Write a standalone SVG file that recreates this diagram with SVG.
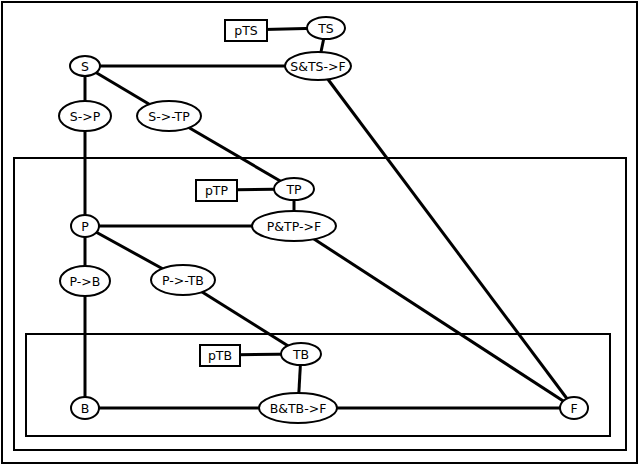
<svg xmlns="http://www.w3.org/2000/svg" width="640" height="466" viewBox="0 0 640 466">
<style>
.f{fill:none;stroke:#000;stroke-width:2}
.n ellipse,.n rect{fill:#fff;stroke:#000;stroke-width:2}
.n text{font-family:"DejaVu Sans","Liberation Sans",sans-serif;font-size:12.5px;text-anchor:middle;dominant-baseline:central}
#edges line{stroke:#000;stroke-width:3}
</style>
<rect width="640" height="466" fill="#fff"/>
<rect class="f" x="2" y="2" width="635" height="461"/>
<rect class="f" x="14" y="158" width="612" height="292"/>
<rect class="f" x="26" y="334" width="584" height="102"/>
<g id="edges">
<line x1="246" y1="30" x2="326" y2="28"/>
<line x1="326" y1="28" x2="318" y2="66"/>
<line x1="85" y1="66" x2="318" y2="66"/>
<line x1="318" y1="66" x2="574" y2="408"/>
<line x1="85" y1="66" x2="85" y2="226"/>
<line x1="85" y1="66" x2="169" y2="116"/>
<line x1="169" y1="116" x2="294" y2="189"/>
<line x1="216" y1="190" x2="294" y2="189"/>
<line x1="294" y1="189" x2="294" y2="226"/>
<line x1="85" y1="226" x2="294" y2="226"/>
<line x1="294" y1="226" x2="574" y2="408"/>
<line x1="85" y1="226" x2="85" y2="408"/>
<line x1="85" y1="226" x2="183" y2="280"/>
<line x1="183" y1="280" x2="301" y2="354"/>
<line x1="220" y1="355" x2="301" y2="354"/>
<line x1="301" y1="354" x2="298" y2="408"/>
<line x1="85" y1="408" x2="574" y2="408"/>
</g>
<g id="pTS" class="n"><rect x="225" y="20" width="42" height="21"/><text x="246" y="30.5">pTS</text></g>
<g id="TS" class="n"><ellipse cx="326" cy="28" rx="19" ry="11"/><text x="326" y="28">TS</text></g>
<g id="S" class="n"><ellipse cx="85" cy="66" rx="15" ry="10"/><text x="85" y="66">S</text></g>
<g id="STSF" class="n"><ellipse cx="318" cy="66" rx="33" ry="14"/><text x="318" y="66">S&amp;TS-&gt;F</text></g>
<g id="SP" class="n"><ellipse cx="85" cy="116" rx="26" ry="15"/><text x="85" y="116">S-&gt;P</text></g>
<g id="STP" class="n"><ellipse cx="169" cy="116" rx="32" ry="15"/><text x="169" y="116">S-&gt;-TP</text></g>
<g id="pTP" class="n"><rect x="196" y="180" width="41" height="21"/><text x="216.5" y="190.5">pTP</text></g>
<g id="TP" class="n"><ellipse cx="294" cy="189" rx="20" ry="11"/><text x="294" y="189">TP</text></g>
<g id="P" class="n"><ellipse cx="85" cy="226" rx="14" ry="11"/><text x="85" y="226">P</text></g>
<g id="PTPF" class="n"><ellipse cx="294" cy="226" rx="42" ry="15"/><text x="294" y="226">P&amp;TP-&gt;F</text></g>
<g id="PB" class="n"><ellipse cx="85" cy="281" rx="25" ry="15"/><text x="85" y="281">P-&gt;B</text></g>
<g id="PTB" class="n"><ellipse cx="183" cy="280" rx="32" ry="15"/><text x="183" y="280">P-&gt;-TB</text></g>
<g id="pTB" class="n"><rect x="200" y="345" width="40" height="21"/><text x="220" y="355.5">pTB</text></g>
<g id="TB" class="n"><ellipse cx="301" cy="354" rx="20" ry="11"/><text x="301" y="354">TB</text></g>
<g id="B" class="n"><ellipse cx="85" cy="408" rx="14" ry="11"/><text x="85" y="408">B</text></g>
<g id="BTBF" class="n"><ellipse cx="298" cy="408" rx="39" ry="15"/><text x="298" y="408">B&amp;TB-&gt;F</text></g>
<g id="F" class="n"><ellipse cx="574" cy="408" rx="14" ry="11"/><text x="574" y="408">F</text></g>
</svg>
